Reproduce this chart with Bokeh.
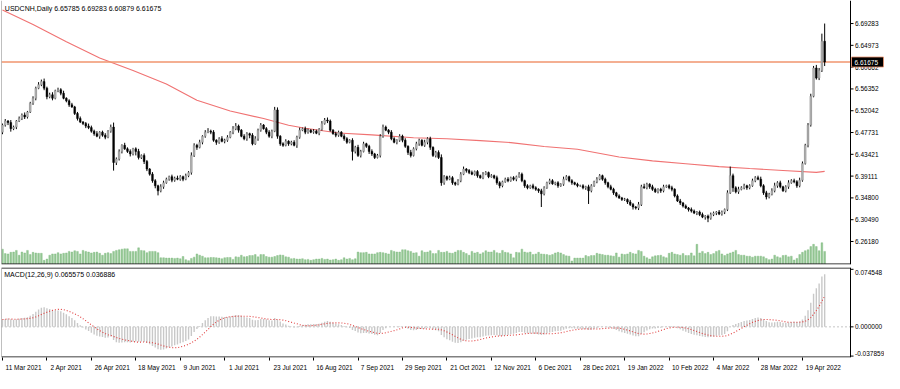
import numpy as np
from bokeh.plotting import figure
from bokeh.layouts import column
from bokeh.models import (Range1d, FixedTicker, Span, ColumnDataSource, CustomJSTickFormatter)
from bokeh.core.properties import value
from bokeh.embed import file_html
from bokeh.resources import INLINE

# ---------------- data ----------------
symbol_title = "USDCNH,Daily  6.65785 6.69283 6.60879 6.61675"
macd_title = "MACD(12,26,9) 0.065575 0.036886"
bid_price = 6.61675
first_open = 6.478

closes = [
    6.492, 6.500, 6.497, 6.485, 6.488, 6.500, 6.505, 6.512, 6.508, 6.518, 6.535, 6.545, 6.565, 6.572, 6.578, 6.565,
    6.548, 6.552, 6.545, 6.560, 6.562, 6.555, 6.545, 6.540, 6.532, 6.528, 6.515, 6.505, 6.498, 6.495, 6.490, 6.487,
    6.480, 6.475, 6.470, 6.478, 6.472, 6.468, 6.480, 6.488, 6.418, 6.425, 6.440, 6.452, 6.445, 6.440, 6.435, 6.445,
    6.440, 6.428, 6.432, 6.420, 6.405, 6.395, 6.382, 6.372, 6.362, 6.370, 6.378, 6.385, 6.390, 6.383, 6.387, 6.385,
    6.390, 6.385, 6.392, 6.398, 6.432, 6.452, 6.448, 6.458, 6.470, 6.478, 6.480, 6.478, 6.462, 6.458, 6.465, 6.460,
    6.462, 6.468, 6.478, 6.485, 6.490, 6.482, 6.470, 6.465, 6.475, 6.472, 6.455, 6.465, 6.482, 6.492, 6.485, 6.478,
    6.470, 6.480, 6.522, 6.470, 6.455, 6.452, 6.460, 6.455, 6.458, 6.452, 6.468, 6.482, 6.485, 6.478, 6.482, 6.478,
    6.480, 6.476, 6.484, 6.495, 6.502, 6.500, 6.482, 6.475, 6.472, 6.478, 6.470, 6.465, 6.458, 6.462, 6.440, 6.448,
    6.432, 6.440, 6.455, 6.450, 6.440, 6.435, 6.428, 6.432, 6.470, 6.488, 6.482, 6.478, 6.465, 6.458, 6.462, 6.470,
    6.462, 6.450, 6.438, 6.432, 6.445, 6.455, 6.462, 6.452, 6.458, 6.465, 6.448, 6.432, 6.438, 6.428, 6.378, 6.390,
    6.385, 6.388, 6.378, 6.375, 6.382, 6.395, 6.405, 6.402, 6.398, 6.395, 6.400, 6.392, 6.388, 6.395, 6.398, 6.390,
    6.392, 6.388, 6.378, 6.372, 6.380, 6.385, 6.382, 6.388, 6.385, 6.390, 6.395, 6.382, 6.372, 6.368, 6.372, 6.368,
    6.365, 6.362, 6.356, 6.368, 6.378, 6.382, 6.376, 6.378, 6.372, 6.375, 6.385, 6.390, 6.382, 6.378, 6.375, 6.372,
    6.372, 6.368, 6.370, 6.362, 6.372, 6.380, 6.385, 6.392, 6.385, 6.378, 6.370, 6.365, 6.358, 6.352, 6.348, 6.345,
    6.345, 6.340, 6.335, 6.330, 6.328, 6.335, 6.370, 6.368, 6.375, 6.370, 6.365, 6.360, 6.365, 6.362, 6.370, 6.372,
    6.368, 6.365, 6.352, 6.342, 6.338, 6.332, 6.328, 6.325, 6.322, 6.318, 6.320, 6.315, 6.310, 6.312, 6.308, 6.315,
    6.318, 6.320, 6.316, 6.320, 6.325, 6.358, 6.392, 6.368, 6.360, 6.365, 6.368, 6.372, 6.368, 6.372, 6.382, 6.388,
    6.385, 6.372, 6.358, 6.350, 6.355, 6.362, 6.372, 6.378, 6.370, 6.362, 6.370, 6.378, 6.382, 6.380, 6.372, 6.383,
    6.416, 6.452, 6.492, 6.549, 6.605, 6.585, 6.600, 6.65785, 6.61675,
]

# upper / lower shadow lengths, in units of 0.001
wick_up = [
    3, 4, 2, 5, 3, 2, 4, 3, 5, 2, 3, 4, 3, 5, 4, 6,
    3, 4, 5, 2, 4, 3, 5, 2, 3, 4, 2, 3, 4, 2, 3, 5,
    4, 3, 5, 2, 3, 4, 2, 5, 9, 3, 4, 2, 5, 3, 4, 2,
    3, 5, 2, 4, 3, 2, 4, 3, 2, 5, 4, 3, 2, 4, 3, 5,
    3, 2, 4, 3, 6, 4, 3, 5, 2, 4, 6, 3, 4, 2, 3, 5,
    3, 4, 2, 5, 6, 3, 2, 4, 3, 2, 4, 5, 3, 4, 2, 3,
    4, 3, 6, 5, 2, 3, 4, 2, 3, 4, 3, 5, 2, 4, 3, 2,
    4, 3, 2, 5, 4, 5, 3, 2, 4, 3, 2, 4, 3, 2, 4, 3,
    5, 3, 4, 2, 3, 4, 2, 3, 4, 5, 3, 2, 4, 3, 2, 4,
    3, 4, 2, 5, 3, 4, 3, 2, 5, 3, 4, 2, 3, 4, 6, 3,
    2, 4, 3, 2, 3, 4, 5, 2, 3, 4, 2, 3, 2, 4, 3, 2,
    3, 2, 4, 3, 2, 3, 4, 2, 3, 2, 4, 3, 2, 3, 2, 4,
    3, 2, 4, 3, 2, 4, 3, 2, 3, 2, 5, 3, 2, 3, 2, 3,
    2, 3, 2, 4, 3, 2, 4, 3, 2, 3, 2, 4, 3, 2, 3, 2,
    3, 2, 4, 3, 2, 5, 4, 6, 3, 2, 4, 3, 2, 3, 4, 2,
    3, 4, 2, 3, 4, 2, 3, 2, 4, 3, 2, 3, 4, 2, 3, 4,
    3, 2, 4, 3, 2, 5, 18, 4, 3, 5, 3, 4, 2, 3, 4, 3,
    4, 5, 3, 4, 3, 5, 6, 3, 4, 2, 3, 5, 3, 4, 3, 5,
    4, 3, 4, 5, 4, 6, 5, 15, 34.98,
]
wick_dn = [
    4, 3, 5, 6, 3, 4, 2, 3, 4, 3, 2, 3, 4, 2, 3, 4,
    5, 3, 4, 2, 3, 4, 2, 3, 4, 2, 3, 4, 2, 3, 4, 3,
    3, 4, 2, 5, 3, 4, 2, 3, 16, 5, 3, 4, 2, 3, 5, 3,
    8, 4, 3, 5, 4, 3, 4, 5, 9, 3, 4, 2, 3, 4, 3, 2,
    3, 4, 2, 3, 4, 3, 5, 2, 4, 3, 2, 4, 3, 5, 3, 2,
    4, 3, 2, 4, 3, 5, 2, 3, 4, 6, 3, 2, 4, 3, 2, 4,
    3, 4, 2, 5, 4, 3, 2, 4, 3, 2, 5, 3, 2, 4, 3, 2,
    3, 2, 4, 3, 2, 4, 3, 2, 4, 3, 2, 4, 3, 2, 18, 4,
    3, 4, 2, 3, 5, 4, 3, 2, 4, 3, 2, 4, 3, 2, 4, 3,
    4, 3, 5, 4, 2, 3, 4, 2, 3, 4, 5, 3, 4, 3, 6, 4,
    3, 2, 4, 3, 2, 3, 2, 4, 3, 2, 3, 4, 2, 3, 2, 3,
    2, 3, 4, 5, 3, 2, 3, 2, 3, 4, 2, 3, 4, 3, 2, 3,
    3, 4, 26, 3, 2, 3, 2, 3, 4, 2, 3, 2, 3, 4, 2, 3,
    2, 3, 4, 26, 3, 2, 3, 2, 3, 4, 3, 2, 4, 3, 2, 3,
    3, 4, 3, 5, 3, 4, 3, 2, 3, 4, 3, 2, 3, 4, 3, 2,
    3, 4, 3, 2, 4, 3, 2, 4, 3, 2, 4, 3, 2, 5, 8, 3,
    3, 4, 2, 3, 4, 3, 2, 8, 3, 4, 2, 3, 4, 3, 2, 3,
    2, 3, 4, 5, 3, 2, 3, 4, 3, 2, 3, 4, 2, 3, 4, 3,
    3, 2, 4, 3, 2, 3, 4, 3, 7.96,
]

# tick volume (relative units)
volumes = [
    45, 31, 30, 35, 36, 41, 26, 36, 33, 41, 28, 35, 33, 32, 32, 10, 14, 26, 30, 30,
    34, 30, 32, 33, 38, 36, 40, 38, 30, 41, 38, 36, 33, 35, 36, 32, 26, 32, 34, 31,
    38, 41, 43, 45, 46, 46, 38, 38, 38, 49, 41, 40, 34, 38, 38, 38, 34, 18, 18, 17,
    17, 17, 16, 17, 15, 22, 12, 9, 16, 20, 30, 26, 23, 18, 18, 19, 19, 18, 17, 15,
    18, 19, 19, 13, 21, 20, 26, 21, 22, 25, 25, 28, 21, 28, 28, 22, 20, 20, 22, 25,
    27, 26, 21, 20, 15, 16, 14, 14, 15, 12, 13, 10, 12, 14, 14, 16, 13, 14, 11, 12,
    14, 10, 12, 18, 14, 16, 12, 15, 36, 34, 34, 35, 30, 30, 30, 34, 35, 34, 32, 30,
    41, 38, 36, 36, 43, 43, 40, 38, 33, 34,
    23, 40, 35, 36, 40, 31, 31, 41, 35, 35, 38, 33, 32, 36, 41, 41, 35, 31, 26, 38,
    33, 35, 30, 34, 40, 36, 36, 41, 34, 32, 41, 35, 34, 30, 18, 35, 34, 45, 36, 34,
    36, 28, 30, 35, 30, 29, 28, 26, 28, 33, 35, 33, 28, 24, 23, 8, 17, 17, 17, 17,
    25, 22, 25, 25, 32, 30, 28, 26, 26, 24, 23, 33, 20, 30, 28, 30, 35, 31, 30, 41,
    38, 23, 18, 14, 21, 24, 25, 26, 21, 18, 32, 35, 30, 28, 26, 31, 25, 25, 33, 24,
    60, 33, 38, 31, 35, 28, 31, 38, 41, 30, 25, 30, 33, 36, 41, 28, 26, 26, 23, 23,
    20, 23, 23, 23, 21, 16, 12, 14, 26, 21, 18, 25, 26, 21, 23, 11, 16, 28, 35, 40,
    43, 53, 60, 53, 40, 65, 38,
]

# moving average (red curve), sampled along the chart
ma_idx = [0, 11, 23, 35, 47, 59, 70, 82, 94, 103, 109, 121, 133, 148, 160, 172,
          183, 195, 207, 222, 234, 246, 258, 269, 281, 293, 296]
ma_val = [6.7194, 6.6909, 6.6568, 6.6245, 6.5998, 6.5732, 6.5410, 6.5200, 6.5049,
          6.4916, 6.4859, 6.4764, 6.4726, 6.4669, 6.4650, 6.4612, 6.4574, 6.4498,
          6.4441, 6.4289, 6.4213, 6.4156, 6.4099, 6.4061, 6.4023, 6.3985, 6.4004]

price_ticks = [6.69283, 6.64973, 6.60662, 6.56352, 6.52042, 6.47731, 6.43421,
               6.39111, 6.34800, 6.30490, 6.26180]
macd_ticks = [-0.037859, 0.0, 0.074548]
date_labels = ["11 Mar 2021", "2 Apr 2021", "26 Apr 2021", "18 May 2021", "9 Jun 2021",
               "1 Jul 2021", "23 Jul 2021", "16 Aug 2021", "7 Sep 2021", "29 Sep 2021",
               "21 Oct 2021", "12 Nov 2021", "6 Dec 2021", "28 Dec 2021", "19 Jan 2022",
               "10 Feb 2022", "4 Mar 2022", "28 Mar 2022", "19 Apr 2022"]
bars_per_label = 16
ema_fast_seed, ema_slow_seed = 6.4780, 6.4690

# ---------------- derived series ----------------
n = len(closes)
idx = np.arange(n)
c = np.array(closes, dtype=float)
o = np.concatenate([[first_open], c[:-1]])
hi = np.maximum(o, c) + np.array(wick_up[:n]) / 1000.0
lo = np.minimum(o, c) - np.array(wick_dn[:n]) / 1000.0
up = c >= o

af, asl = 2 / 13, 2 / 27
ef, es = ema_fast_seed, ema_slow_seed
macd = []
for v in c:
    ef += af * (v - ef)
    es += asl * (v - es)
    macd.append(ef - es)
macd = np.array(macd)
signal = np.array([macd[max(0, i - 8):i + 1].mean() for i in range(n)])

# ---------------- geometry ----------------
FONT = "Liberation Sans"
W = 884
X0 = -0.35            # left edge of the chart area (bar index units)
X1 = 305.3            # position of the price scale line
FRAME_W = W - 1
PLOT_W = 849          # pixels from left edge to price scale line
ppb = PLOT_W / (X1 - X0)
XEND = X0 + FRAME_W / ppb

MAIN_H = 265
P_LO, P_HI = 6.2163, 6.7384
p_px = (P_HI - P_LO) / (MAIN_H - 1)
M_LO, M_HI = -0.0397, 0.0769
MACD_FRAME_H = 90
m_px = (M_HI - M_LO) / MACD_FRAME_H

src = ColumnDataSource(dict(x=idx, hi=hi, lo=lo,
                            top=np.maximum(o, c), bot=np.minimum(o, c),
                            fill=np.where(up, "#b4b4b4", "#000000"),
                            line=np.where(up, "#8a8a8a", "#000000"),
                            vol=np.array(volumes[:n])))


def price_scale(fig, ticks, fmt, ylo, yhi, ypx):
    """MetaTrader-like scale drawn at the right of the chart area."""
    fig.segment(x0=[X1], y0=[ylo], x1=[X1], y1=[yhi], line_color="black", line_width=1)
    k = len(ticks)
    fig.segment(x0=[X1] * k, y0=ticks, x1=[X1 + 3 / ppb] * k, y1=ticks,
                line_color="black", line_width=1)
    ty = [min(max(t, ylo + 4.5 * ypx), yhi - 4.5 * ypx) for t in ticks]
    fig.text(x=[X1 + 4.5 / ppb] * k, y=ty, text=[fmt % t for t in ticks],
             text_font=value(FONT), text_font_size="6.5px", text_color="black",
             text_baseline="middle", text_align="left")


# ---------------- main price panel ----------------
p = figure(width=W, height=MAIN_H, output_backend="svg", toolbar_location=None,
           x_range=Range1d(X0, XEND), y_range=Range1d(P_LO, P_HI),
           x_axis_location=None, y_axis_location=None,
           min_border_left=1, min_border_right=0, min_border_top=0, min_border_bottom=1)
p.extra_y_ranges = {"vol": Range1d(-3, 822)}
p.grid.visible = False
p.outline_line_color = None
p.background_fill_color = "white"
p.border_fill_color = "white"

p.vbar(x="x", width=0.62, top="vol", bottom=0, y_range_name="vol", source=src,
       fill_color="#96c896", line_color="#7cb87c", line_width=0.4)
p.line(ma_idx, ma_val, line_color="#f07272", line_width=1.1)
p.segment(x0=[X0], y0=[bid_price], x1=[X1], y1=[bid_price], line_color="#f0946e", line_width=1.6)
p.segment(x0="x", y0="lo", x1="x", y1="hi", source=src, line_color="black", line_width=1)
p.vbar(x="x", width=0.62, top="top", bottom="bot", source=src,
       fill_color="fill", line_color="line", line_width=0.5)

# frame borders (left, bottom)
p.add_layout(Span(location=X0, dimension="height", line_color="#808080", line_width=1))
p.segment(x0=[X0], y0=[P_LO + 0.5 * p_px], x1=[X1], y1=[P_LO + 0.5 * p_px],
          line_color="black", line_width=1)

price_scale(p, price_ticks, "%.5f", P_LO, P_HI, p_px)

# current price box on the scale
p.quad(left=[X1 + 1 / ppb], right=[X1 + 33 / ppb],
       bottom=[bid_price - 5 * p_px], top=[bid_price + 5 * p_px],
       fill_color="black", line_color="#f0946e", line_width=0.8)
p.text(x=[X1 + 4 / ppb], y=[bid_price], text=["6.61675"], text_font=value(FONT),
       text_font_size="6.5px", text_color="white", text_baseline="middle", text_align="left")

p.text(x=[X0 + 1.2], y=[P_HI - 8 * p_px], text=[symbol_title], text_font=value(FONT),
       text_font_size="7px", text_color="black", text_baseline="middle", text_align="left")

# ---------------- MACD panel ----------------
p2 = figure(width=W, height=108, output_backend="svg", toolbar_location=None,
            x_range=p.x_range, y_range=Range1d(M_LO, M_HI),
            x_axis_location="below", y_axis_location=None,
            min_border_left=1, min_border_right=0, min_border_top=2, min_border_bottom=16)
p2.grid.visible = False
p2.outline_line_color = None
p2.background_fill_color = "white"
p2.border_fill_color = "white"

p2.segment(x0=[X0], y0=[0], x1=[X1], y1=[0], line_color="#8c8c8c",
           line_dash="1 3", line_width=1)
p2.vbar(x=idx, width=0.5, top=macd, bottom=0, fill_color="#c8c8c8", line_color=None)
p2.line(idx, signal, line_color="#e03c3c", line_dash="1 2", line_width=1.1)

p2.add_layout(Span(location=X0, dimension="height", line_color="#808080", line_width=1))
p2.segment(x0=[X0], y0=[M_HI - 0.5 * m_px], x1=[X1], y1=[M_HI - 0.5 * m_px],
           line_color="black", line_width=1)
p2.segment(x0=[X0], y0=[M_LO + 0.5 * m_px], x1=[X1], y1=[M_LO + 0.5 * m_px],
           line_color="black", line_width=1)

price_scale(p2, macd_ticks, "%.6f", M_LO, M_HI, m_px)

p2.text(x=[X0 + 1.0], y=[M_HI - 7 * m_px], text=[macd_title], text_font=value(FONT),
        text_font_size="7px", text_color="black", text_baseline="middle", text_align="left")

# date labels start just right of their tick marks (MT4 style)
tick_pos = [k * bars_per_label for k in range(len(date_labels))]
centers = [t + (2.5 + 0.5 * 6.5 * 0.52 * len(s)) / ppb
           for t, s in zip(tick_pos, date_labels)]
xa = p2.xaxis[0]
xa.ticker = FixedTicker(ticks=centers, minor_ticks=tick_pos)
xa.formatter = CustomJSTickFormatter(args=dict(centers=centers, labels=date_labels), code="""
    let best = -1, bd = 1e9;
    for (let i = 0; i < centers.length; i++) {
        const d = Math.abs(centers[i] - tick);
        if (d < bd) { bd = d; best = i; }
    }
    return (best >= 0 && bd < 0.01) ? labels[best] : '';
""")
xa.major_tick_out = 0
xa.major_tick_in = 0
xa.minor_tick_out = 3
xa.minor_tick_in = 0
xa.minor_tick_line_color = "black"
xa.axis_line_color = None
xa.major_label_standoff = 3
xa.major_label_text_font = FONT
xa.major_label_text_font_size = "6.5px"
xa.major_label_text_color = "black"

layout = column(p, p2, spacing=0)
open("out.html", "w").write(file_html(layout, INLINE))
